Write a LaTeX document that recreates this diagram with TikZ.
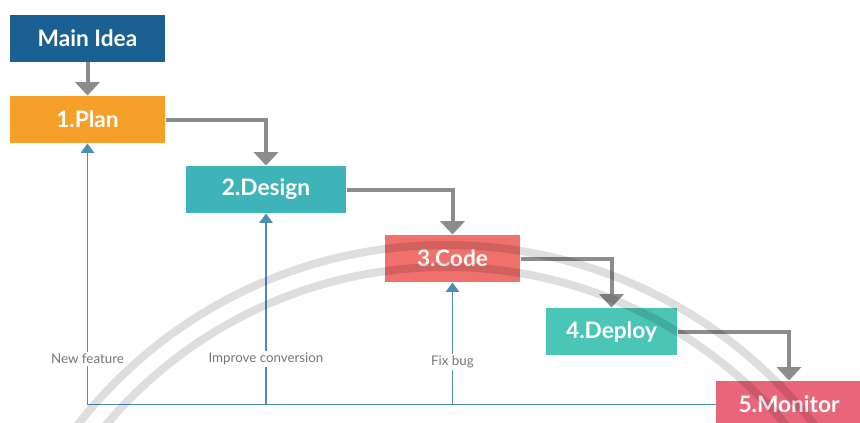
\documentclass[tikz,border=0pt]{standalone}
\usepackage{fontspec}
\setmainfont{Lato}
\usetikzlibrary{arrows.meta}

\definecolor{ideablue}{RGB}{27,96,146}
\definecolor{planorange}{RGB}{246,160,42}
\definecolor{designteal}{RGB}{63,180,184}
\definecolor{codered}{RGB}{240,112,108}
\definecolor{deploygreen}{RGB}{75,197,181}
\definecolor{monitorpink}{RGB}{233,102,122}
\definecolor{flowgray}{RGB}{140,140,140}
\definecolor{fbblue}{RGB}{74,141,183}
\definecolor{labelgray}{RGB}{118,118,118}

\tikzset{every picture/.style={line width=0.75pt}}
\tikzset{
  stage/.style={inner sep=0pt, minimum height=35.25pt, text=white, font=\fontsize{17}{20}\selectfont\bfseries},
  flow/.style={draw=flowgray, line width=3pt, -{Triangle[width=18pt,length=10pt]}},
  feedback/.style={draw=fbblue, line width=1.1pt},
  fbarrow/.style={feedback, -{Triangle[width=10pt,length=7pt]}},
  fblabel/.style={fill=white, inner sep=1.5pt, text=labelgray, font=\fontsize{10}{12}\selectfont},
  seal/.style={draw=black, draw opacity=0.13, line width=6pt}
}

\begin{document}
\begin{tikzpicture}[x=0.75pt,y=0.75pt,yscale=-1,xscale=1]
\useasboundingbox (0,0) rectangle (860,422);

% Stages
\node [stage, fill=ideablue, minimum width=116.25pt] (idea) at (87.5,38) {Main Idea};
\node [stage, fill=planorange, minimum width=116.25pt] (plan) at (87.5,119.5) {1.Plan};
\node [stage, fill=designteal, minimum width=120pt] (design) at (266,189.5) {2.Design};
\node [stage, fill=codered, minimum width=101.25pt] (code) at (452.5,258.5) {3.Code};
\node [stage, fill=deploygreen, minimum width=98.25pt] (deploy) at (611.5,331.5) {4.Deploy};
\node [stage, fill=monitorpink, minimum width=109.5pt] (monitor) at (789,404.5) {5.Monitor};

% Flow
\draw [flow] (idea) -- (plan);
\draw [flow] (plan.east) -| (design.north);
\draw [flow] (design.east) -| (code.north);
\draw [flow] (code.east) -| (deploy.north);
\draw [flow] (deploy.east) -| (monitor.north);

% Feedback
\coordinate (fbplan) at (plan.south |- monitor.west);
\coordinate (fbdesign) at (design.south |- monitor.west);
\coordinate (fbcode) at (code.south |- monitor.west);
\draw [feedback] (monitor.west) -- (fbplan);
\draw [fbarrow] (fbplan) -- node [fblabel, pos=0.175] (newfeature) {New feature} (plan.south);
\draw [fbarrow] (fbdesign) -- node [fblabel, pos=0.24] (improve) {Improve conversion} (design.south);
\draw [fbarrow] (fbcode) -- node [fblabel, pos=0.35] (fixbug) {Fix bug} (code.south);

% Seal in the background
\draw [seal] (446,712) circle [radius=467];
\draw [seal] (446,712) circle [radius=445];

\end{tikzpicture}
\end{document}
